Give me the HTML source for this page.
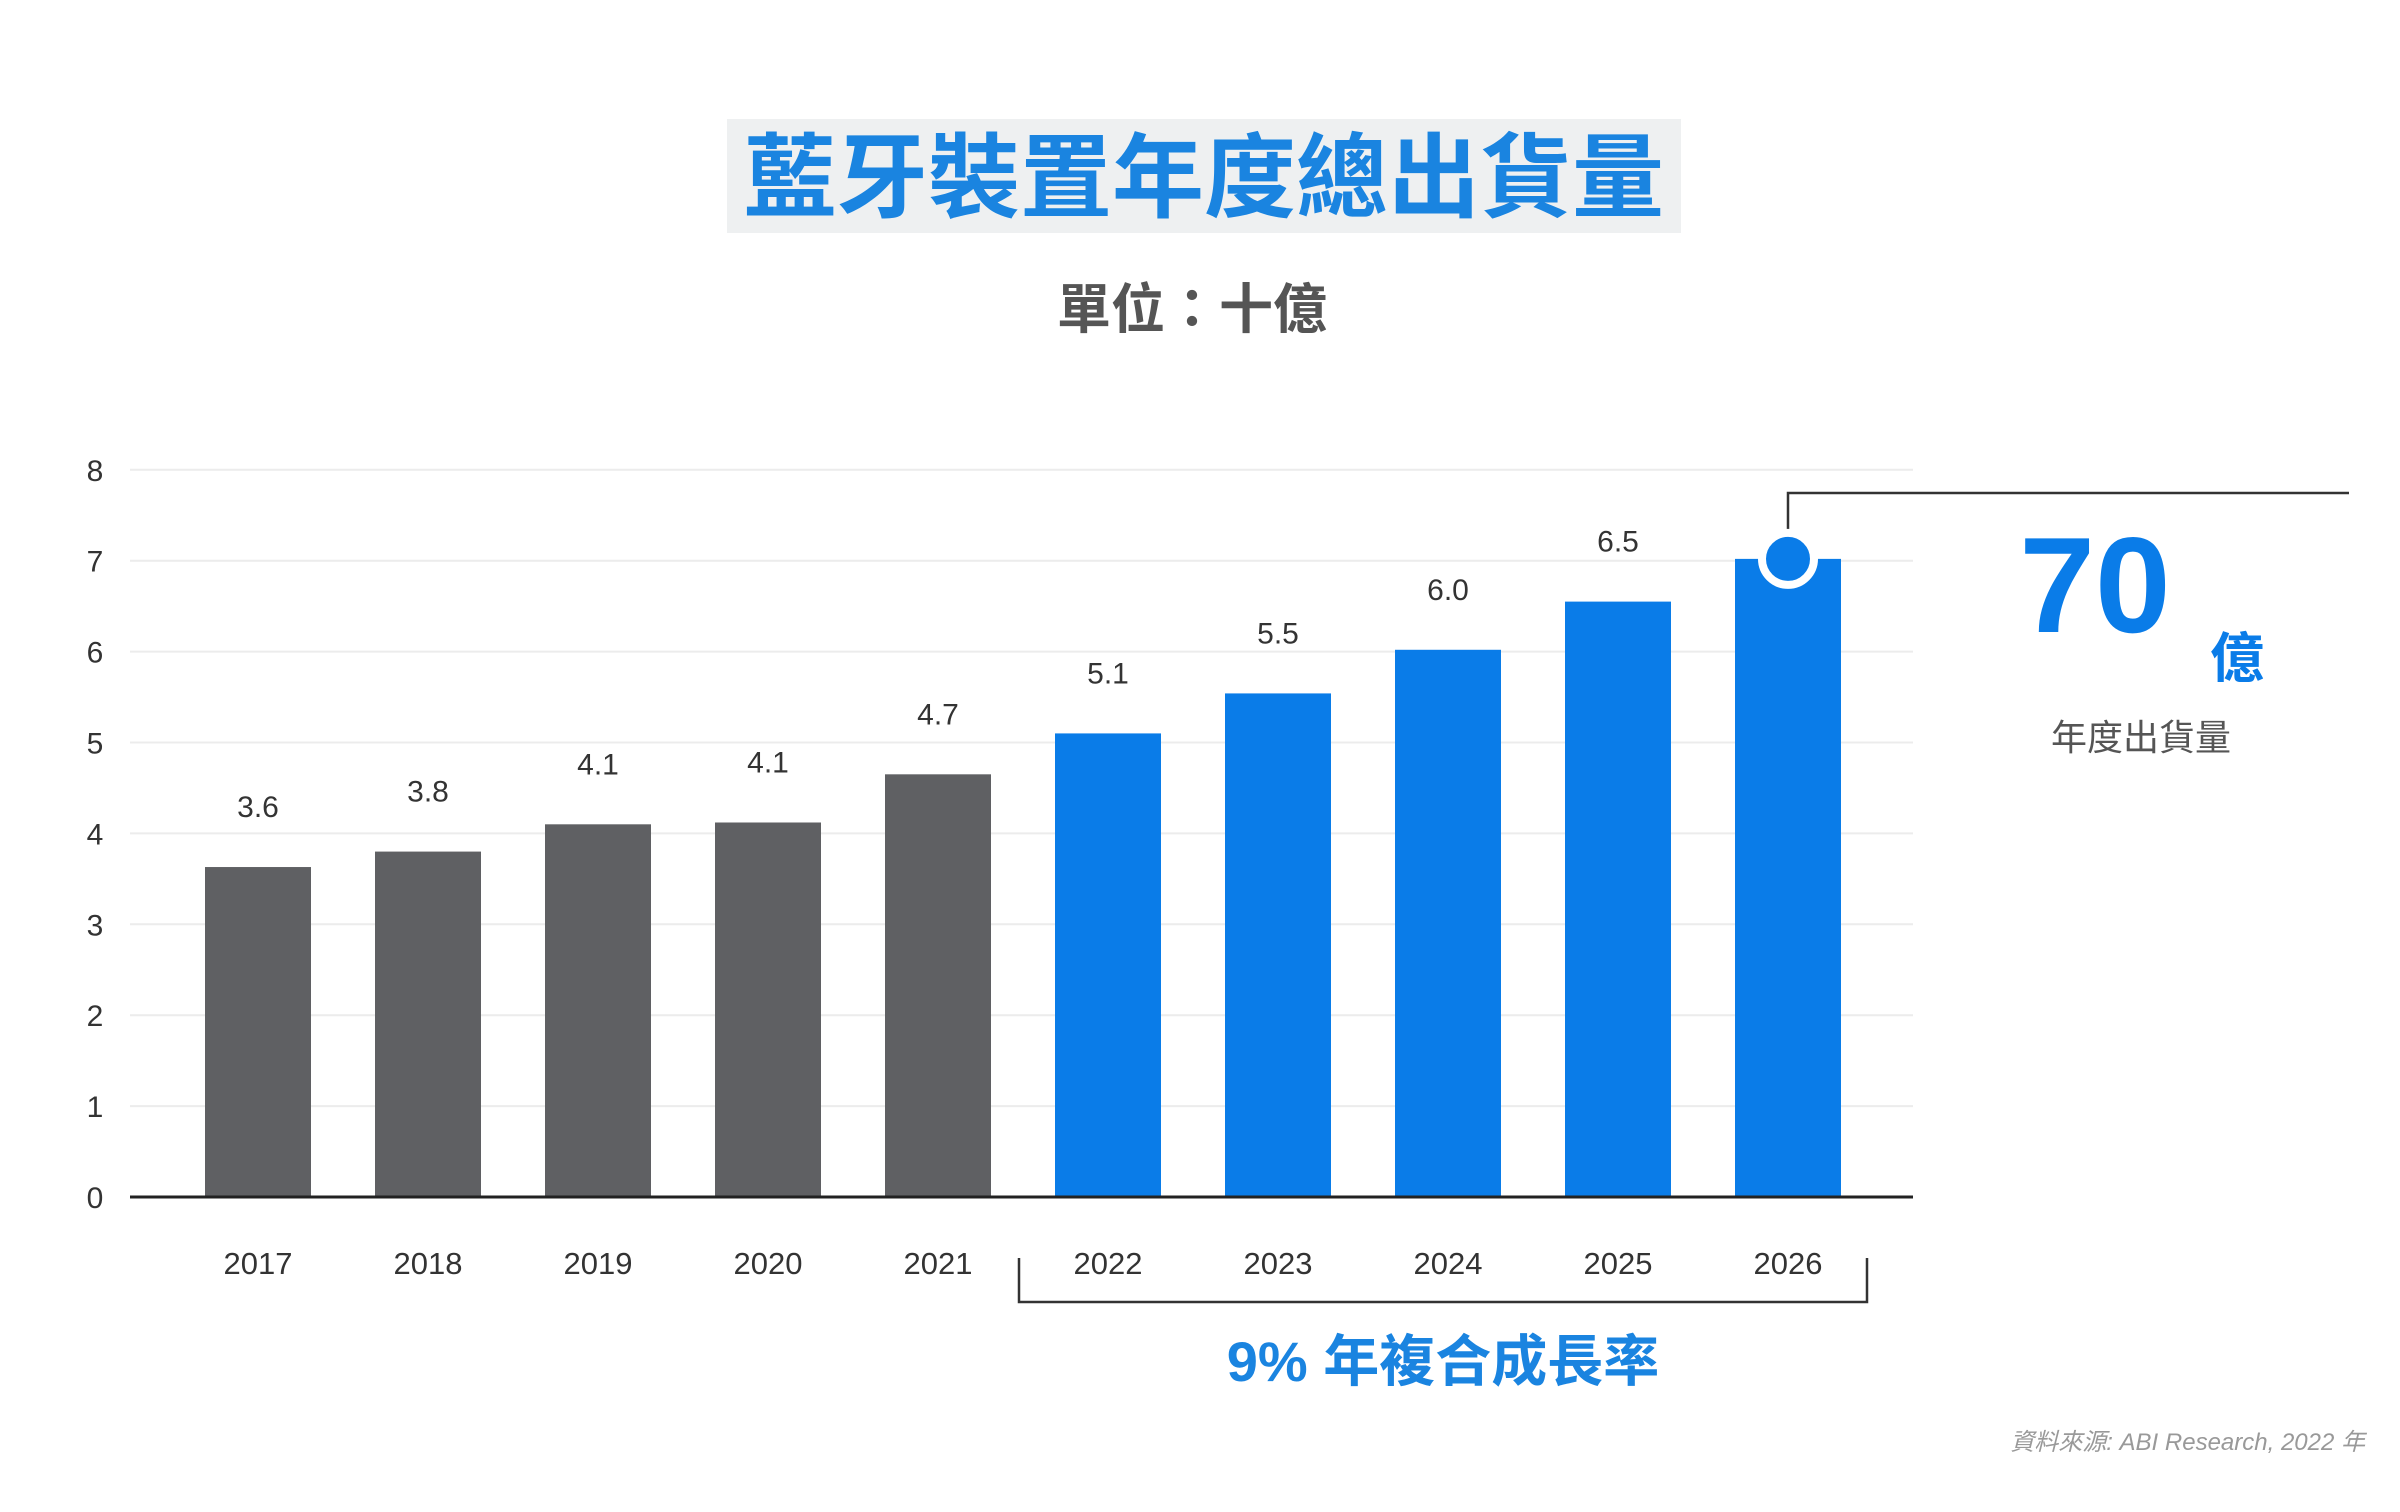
<!DOCTYPE html>
<html><head><meta charset="utf-8"><style>
body{margin:0;width:2400px;height:1507px;background:#fff;overflow:hidden}
svg text{font-family:"Liberation Sans","Noto Sans CJK TC",sans-serif}
</style></head><body>
<svg width="2400" height="1507" viewBox="0 0 2400 1507">
<rect x="727" y="119" width="954" height="114" fill="#eef0f1"/>
<text x="1204" y="210" text-anchor="middle" font-size="92" font-weight="bold" fill="#1a84e0">藍牙裝置年度總出貨量</text>
<text x="1192" y="328" text-anchor="middle" font-size="54" font-weight="bold" fill="#555">單位：十億</text>
<g id="grid"></g>
<g id="bars"></g>
<line x1="130" y1="1197" x2="1913" y2="1197" stroke="#222" stroke-width="3"/>
<path d="M1019 1258 V1302 H1867 V1258" fill="none" stroke="#333" stroke-width="2.5"/>
<text x="1443" y="1381" text-anchor="middle" font-size="56" font-weight="bold" fill="#1a84e0">9%  年複合成長率</text>
<path id="callout" fill="none" stroke="#333" stroke-width="2.5"/>
<circle id="dot" r="26" fill="#0a7ce8" stroke="#fff" stroke-width="8"/>
<text x="2095" y="632" text-anchor="middle" font-size="136" font-weight="bold" fill="#0a7ce8">70</text>
<text x="2237" y="677" text-anchor="middle" font-size="54" font-weight="bold" fill="#0a7ce8">億</text>
<text x="2141" y="750" text-anchor="middle" font-size="36" fill="#555">年度出貨量</text>
<text x="2365" y="1450" text-anchor="end" font-size="24" font-style="italic" fill="#999">資料來源: ABI Research, 2022 年</text>
</svg>
<script>
const years=["2017","2018","2019","2020","2021","2022","2023","2024","2025","2026"];
const values=[3.63,3.8,4.1,4.12,4.65,5.1,5.54,6.02,6.55,7.02];
const labels=["3.6","3.8","4.1","4.1","4.7","5.1","5.5","6.0","6.5",""];
const forecast=[false,false,false,false,false,true,true,true,true,true];
const yTicks=[0,1,2,3,4,5,6,7,8];
const NS="http://www.w3.org/2000/svg";
const y0=1197,unit=90.9,x0=205,pitch=170,bw=106;
const ys=v=>y0-v*unit, xs=i=>x0+i*pitch;
const grid=document.getElementById('grid'),bars=document.getElementById('bars');
function mk(tag,attrs,parent){const e=document.createElementNS(NS,tag);for(const k in attrs)e.setAttribute(k,attrs[k]);parent.appendChild(e);return e;}
yTicks.forEach(t=>{
 if(t>0){const l=mk('line',{x1:130,x2:1913,y1:ys(t),y2:ys(t),stroke:'#ececec','stroke-width':2},grid);
 
 }
 const tx=mk('text',{x:95,y:ys(t)+11,'text-anchor':'middle','font-size':30,fill:'#333'},grid);
 tx.textContent=t;
 
 
});
years.forEach((yr,i)=>{
 const top=ys(values[i]);
 const r=mk('rect',{x:xs(i),y:top,width:bw,height:y0-top,fill:forecast[i]?'#0a7ce8':'#5f6063'},bars);
 
 
 if(labels[i]){const v=mk('text',{x:xs(i)+bw/2,y:top-50,'text-anchor':'middle','font-size':30,fill:'#333'},bars);
 v.textContent=labels[i];
 
 }
 const t=mk('text',{x:xs(i)+bw/2,y:1274,'text-anchor':'middle','font-size':31,fill:'#333'},bars);
 t.textContent=yr;
 
 
});
const li=years.length-1,cx=xs(li)+bw/2,cy=ys(values[li]);
document.getElementById('dot').setAttribute('cx',cx);
document.getElementById('dot').setAttribute('cy',cy);
document.getElementById('callout').setAttribute('d',`M${cx} ${cy} V493 H2349`);
</script>
</body></html>
